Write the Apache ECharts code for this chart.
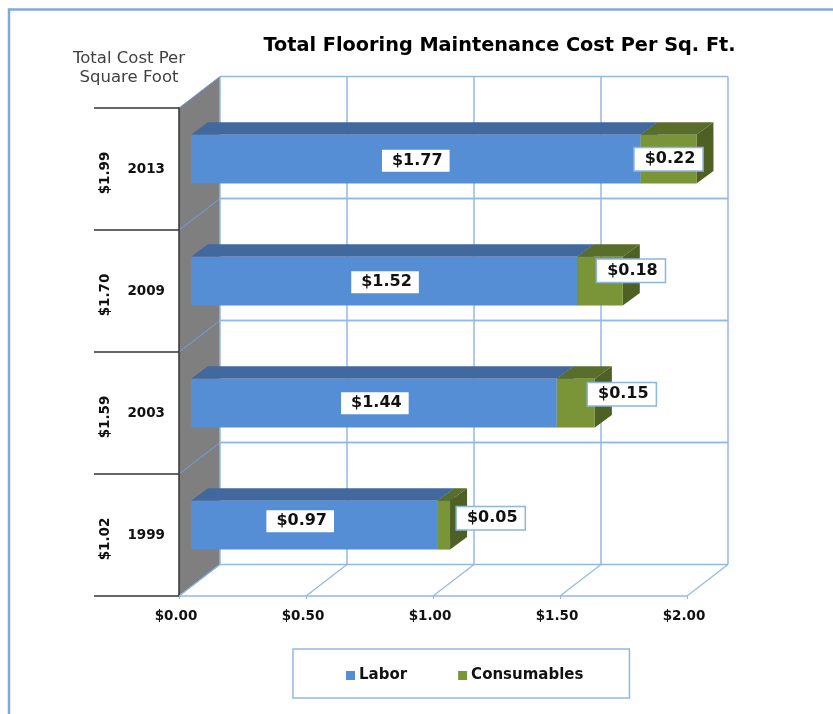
<!DOCTYPE html>
<html>
<head>
<meta charset="utf-8">
<style>html,body{margin:0;padding:0;background:#fff}#chart{width:833px;height:714px}</style>
<script src="https://cdn.jsdelivr.net/npm/echarts@6/dist/echarts.min.js"></script>
</head>
<body>
<div id="chart"></div>
<script>
// bottom to top, same order as the category axis
const years = ["1999", "2003", "2009", "2013"];
const totals = ["$1.02", "$1.59", "$1.70", "$1.99"];
const labor = [0.97, 1.44, 1.52, 1.77];
const consumables = [0.05, 0.15, 0.18, 0.22];
const xTicks = [0, 0.5, 1, 1.5, 2];

// hand placed data labels, px away from the middle of the bar face
const laborShift = [[-14, -4], [1, 0], [1, 1], [0, 1.5]];
const consumablesShift = [[47, -7], [46, -9], [31, -10.5], [0, 0]];

const lineBlue = "#94B8E6";
const wallDx = 41, wallDy = 31.5;   // how far the back wall sits from the axis plane
const barDx = 12, barDy = 9.8;      // front of the bars
const depthDx = 17, depthDy = 12.5; // depth of the bars
const font = '"DejaVu Sans", Verdana, sans-serif';

const line = (x1, y1, x2, y2, color, width) => ({
  type: "line",
  shape: { x1: x1, y1: y1, x2: x2, y2: y2 },
  style: { stroke: color || lineBlue, lineWidth: width || 1.5 }
});
const poly = (points, color) => ({
  type: "polygon",
  shape: { points: points },
  style: { fill: color }
});

// grey side wall plus the horizontal lines on the back wall
const renderWall = (params, api) => {
  let c = api.coord([0, api.value(0)]);
  let h = api.size([0, 1])[1];
  let top = c[1] - h / 2, bottom = c[1] + h / 2;
  let right = api.coord([2, 0])[0];
  return {
    type: "group",
    children: [
      poly([[c[0], top], [c[0] + wallDx, top - wallDy], [c[0] + wallDx, bottom - wallDy], [c[0], bottom]], "#7F7F7F"),
      line(c[0] + wallDx, top - wallDy, right + wallDx, top - wallDy),
      line(c[0] + wallDx, bottom - wallDy, right + wallDx, bottom - wallDy),
      line(c[0], top, c[0] + wallDx, top - wallDy, "#6F9BD6", 1),
      line(c[0], bottom, c[0] + wallDx, bottom - wallDy, "#6F9BD6", 1)
    ]
  };
};

// upright lines on the back wall plus the floor lines
const renderGridX = (params, api) => {
  let low = api.coord([api.value(0), 0]);
  let high = api.coord([api.value(0), years.length - 1]);
  let h = api.size([0, 1])[1];
  let floor = low[1] + h / 2, roof = high[1] - h / 2;
  return {
    type: "group",
    children: [
      line(low[0] + wallDx, roof - wallDy, low[0] + wallDx, floor - wallDy),
      line(low[0], floor, low[0] + wallDx, floor - wallDy, lineBlue, 1.2)
    ]
  };
};

const renderBar = (colors, shifts) => (params, api) => {
  let start = api.coord([api.value(0), api.value(2)]);
  let end = api.coord([api.value(1), api.value(2)]);
  let h = api.size([0, 1])[1] * 0.4;
  let x1 = start[0] + barDx, x2 = end[0] + barDx;
  let y1 = start[1] - barDy - h / 2, y2 = y1 + h;
  let shift = shifts[params.dataIndex];
  return {
    type: "group",
    children: [
      poly([[x1, y1], [x1 + depthDx, y1 - depthDy], [x2 + depthDx, y1 - depthDy], [x2, y1]], colors.top),
      poly([[x2, y1], [x2 + depthDx, y1 - depthDy], [x2 + depthDx, y2 - depthDy], [x2, y2]], colors.side),
      { type: "rect", shape: { x: x1, y: y1, width: x2 - x1, height: h }, style: { fill: colors.front } },
      {
        type: "text",
        z2: 20,
        style: {
          text: "$" + (api.value(1) - api.value(0)).toFixed(2),
          x: (x1 + x2) / 2 + shift[0],
          y: (y1 + y2) / 2 + shift[1],
          align: "center",
          verticalAlign: "middle",
          font: "bold 16px " + font,
          fill: "#111",
          backgroundColor: "#fff",
          borderColor: colors.border,
          borderWidth: colors.border ? 1.5 : 0,
          padding: [3, 7, 3, 10]
        }
      }
    ]
  };
};

const laborColors = { front: "#558ED5", top: "#41699E", side: "#41699E", border: null };
const consumablesColors = { front: "#7A9537", top: "#5A6E2B", side: "#4F6024", border: "#8DB4E2" };

let option = {
  backgroundColor: "#fff",
  animation: false,
  title: [
    {
      text: "Total Flooring Maintenance Cost Per Sq. Ft.",
      left: 494.5, top: 31, textAlign: "center",
      textStyle: { fontFamily: font, fontSize: 19.3, fontWeight: "bold", color: "#000" }
    },
    {
      text: "Total Cost Per\nSquare Foot",
      left: 124, top: 44, textAlign: "center",
      textStyle: { fontFamily: font, fontSize: 16.5, fontWeight: "normal", color: "#404040", lineHeight: 19 }
    }
  ],
  grid: { left: 179, right: 146, top: 108, bottom: 118 },
  xAxis: {
    type: "value",
    min: 0,
    max: 2,
    interval: 0.5,
    z: 3,
    axisLine: { show: true, lineStyle: { color: lineBlue, width: 1.5 } },
    axisTick: { show: true, length: 3, lineStyle: { color: lineBlue } },
    splitLine: { show: false },
    axisLabel: {
      margin: 13,
      padding: [0, 6, 0, 0],
      fontFamily: font, fontSize: 13.5, fontWeight: "bold", color: "#111",
      formatter: v => "$" + v.toFixed(2)
    }
  },
  yAxis: [
    {
      type: "category",
      data: years,
      z: 3,
      axisLine: { show: true, lineStyle: { color: "#333", width: 1.5 } },
      axisTick: { show: true, length: 85, lineStyle: { color: "#333", width: 1.5 } },
      axisLabel: { margin: 14, padding: [6, 0, 0, 0], fontFamily: font, fontSize: 13.5, fontWeight: "bold", color: "#111" }
    },
    {
      type: "category",
      position: "left",
      offset: 67,
      data: totals,
      axisLine: { show: false },
      axisTick: { show: false },
      axisLabel: { rotate: 90, margin: 0, padding: [0, 8, 0, 0], fontFamily: font, fontSize: 13.5, fontWeight: "bold", color: "#111" }
    }
  ],
  legend: {
    left: 293,
    top: 649,
    padding: [19, 46, 15, 53],
    data: ["Labor", "Consumables"],
    icon: "rect",
    itemWidth: 9,
    itemHeight: 9,
    itemGap: 51,
    borderColor: lineBlue,
    borderWidth: 1.5,
    textStyle: { fontFamily: font, fontSize: 15, fontWeight: "bold", color: "#111", padding: [3, 0, 0, -1] }
  },
  series: [
    {
      type: "custom", name: "wall", z: 1, clip: false,
      renderItem: renderWall,
      encode: { y: 0 },
      data: years.map((y, i) => [i])
    },
    {
      type: "custom", name: "gridX", z: 1, clip: false,
      renderItem: renderGridX,
      encode: { x: 0 },
      data: xTicks.map(v => [v])
    },
    {
      type: "custom", name: "Labor", z: 5, clip: false,
      itemStyle: { color: laborColors.front },
      renderItem: renderBar(laborColors, laborShift),
      encode: { x: [0, 1], y: 2 },
      data: labor.map((v, i) => [0, v, i])
    },
    {
      type: "custom", name: "Consumables", z: 6, clip: false,
      itemStyle: { color: consumablesColors.front },
      renderItem: renderBar(consumablesColors, consumablesShift),
      encode: { x: [0, 1], y: 2 },
      data: consumables.map((v, i) => [labor[i], labor[i] + v, i])
    }
  ],
  graphic: [
    { // frame round the whole picture
      type: "polyline",
      silent: true,
      shape: { points: [[9, 714], [9, 9.5], [833, 9.5]] },
      style: { stroke: "#7FA9DE", lineWidth: 2.5, fill: null }
    }
  ]
};

let myChart = echarts.init(document.getElementById("chart"));
myChart.setOption(option);
</script>
</body>
</html>
